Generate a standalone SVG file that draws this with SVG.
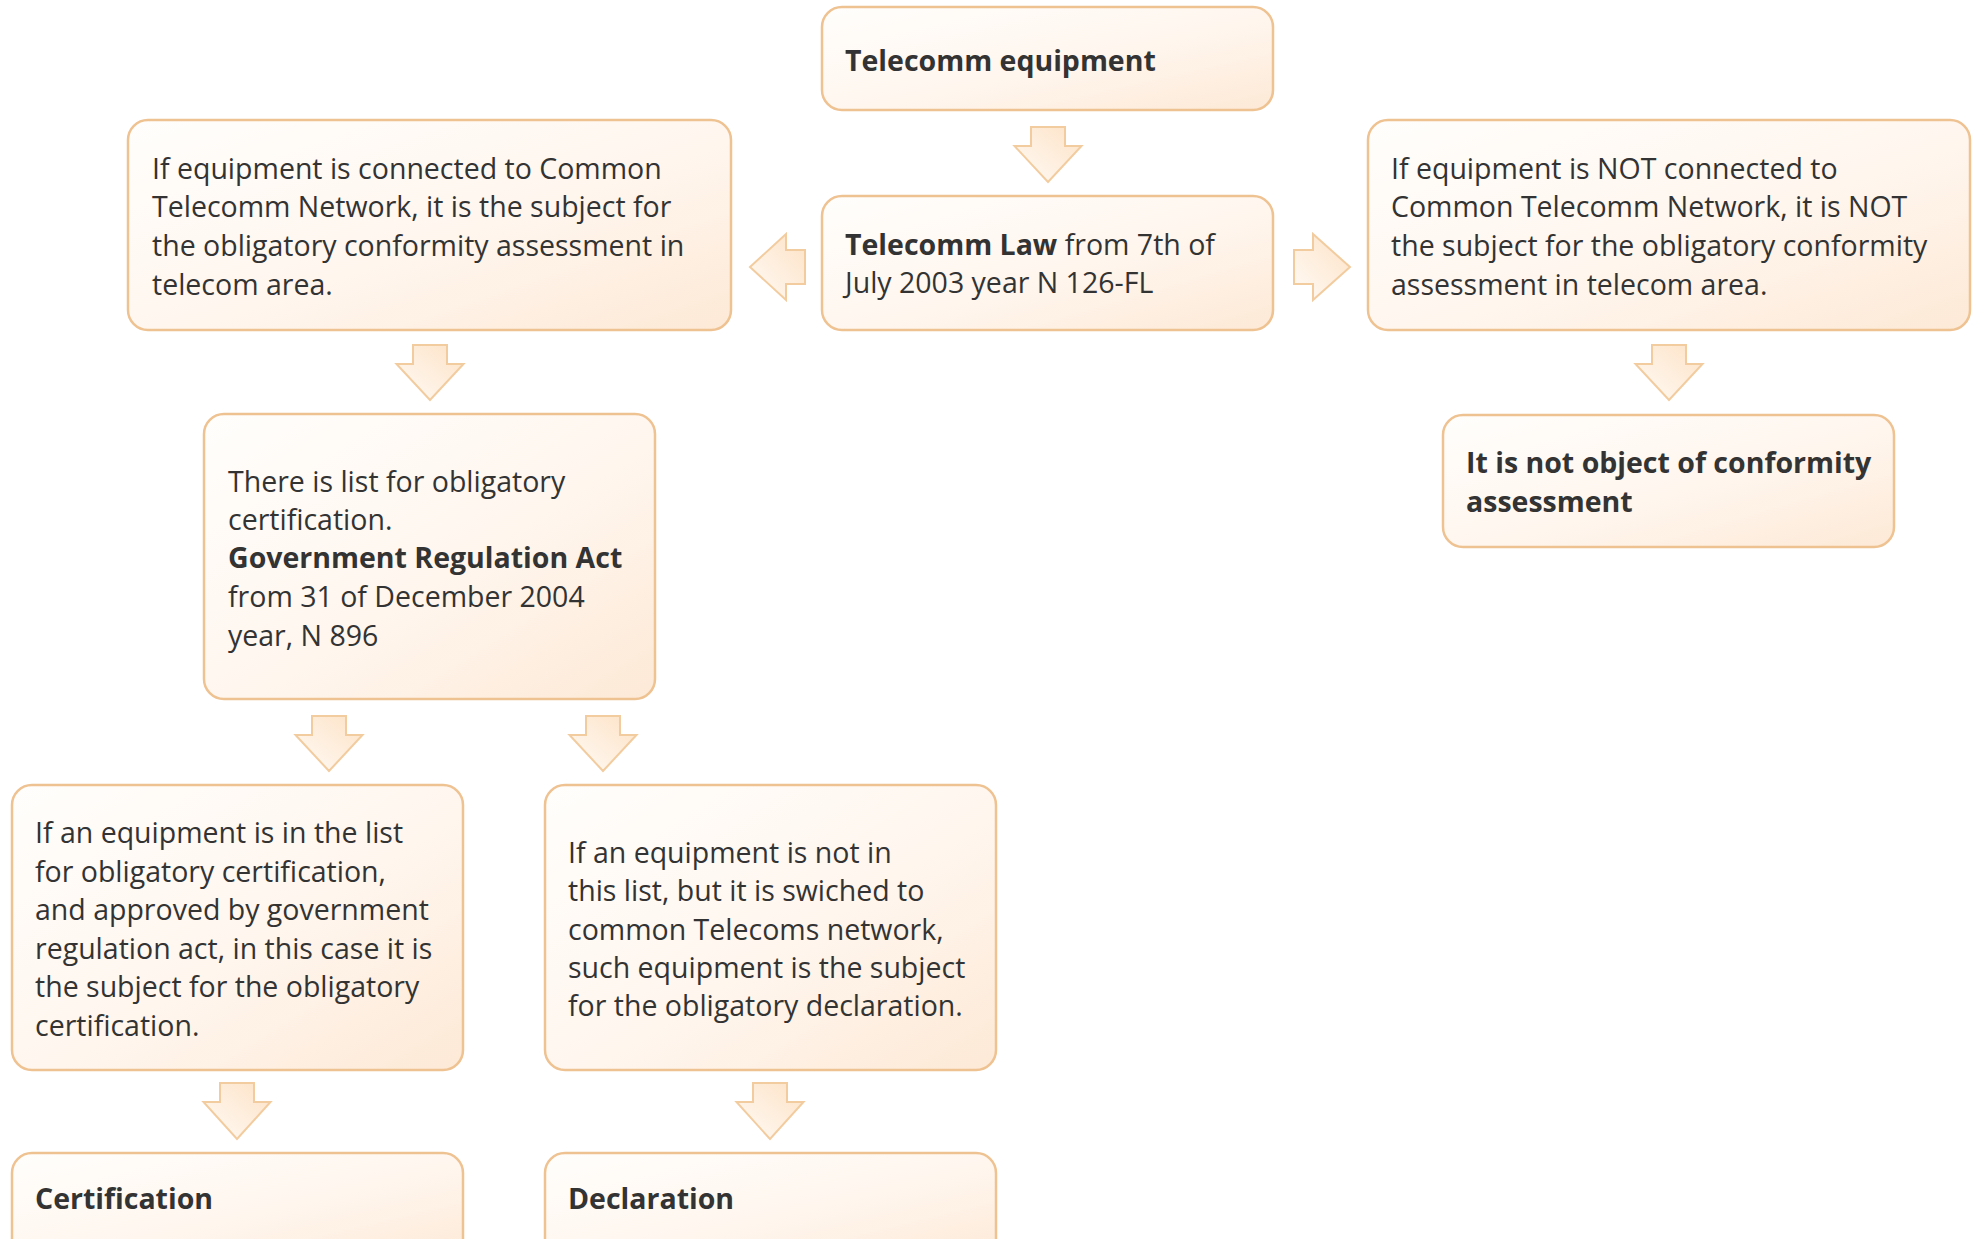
<svg xmlns="http://www.w3.org/2000/svg" width="1975" height="1239" viewBox="0 0 1975 1239">
<defs>
<linearGradient id="boxg" x1="0" y1="0" x2="1" y2="1">
<stop offset="0" stop-color="#fffefc"/>
<stop offset="0.55" stop-color="#fff6ee"/>
<stop offset="1" stop-color="#fde9d6"/>
</linearGradient>
<linearGradient id="arrg" x1="0" y1="1" x2="1" y2="0">
<stop offset="0" stop-color="#fffbf6"/>
<stop offset="1" stop-color="#fde2c6"/>
</linearGradient>
<style>
.box{fill:url(#boxg);stroke:#efc292;stroke-width:2.5}
.arr{fill:url(#arrg);stroke:#f2cc9f;stroke-width:2;stroke-linejoin:miter}
text{font-family:"Open Sans","Noto Sans","Liberation Sans",sans-serif;font-size:28.5px;fill:#333333}
.b{font-weight:700}
</style>
</defs>
<g id="connectors">
<path class="arr" d="M1031,127H1065V146H1081.5L1048,182L1014.5,146H1031Z"/>
<path class="arr" d="M805,250V284H786V300L750,267L786,234V250Z"/>
<path class="arr" d="M1294,250H1313V234L1350,267L1313,300V284H1294Z"/>
<path class="arr" d="M413,345H447V364H463.5L430,400L396.5,364H413Z"/>
<path class="arr" d="M1652,345H1686V364H1702.5L1669,400L1635.5,364H1652Z"/>
<path class="arr" d="M312,716H346V735H362.5L329,771L295.5,735H312Z"/>
<path class="arr" d="M586,716H620V735H636.5L603,771L569.5,735H586Z"/>
<path class="arr" d="M220,1083H254V1102H270.5L237,1139L203.5,1102H220Z"/>
<path class="arr" d="M753,1083H787V1102H803.5L770,1139L736.5,1102H753Z"/>
</g>
<g id="telecomm-equipment">
<rect class="box" x="822" y="7" width="451" height="103" rx="20"/>
<text class="b" x="845" y="71">Telecomm equipment</text>
</g>
<g id="telecomm-law">
<rect class="box" x="822" y="196" width="451" height="134" rx="20"/>
<text x="845" y="255"><tspan class="b">Telecomm Law</tspan> from 7th of</text>
<text x="845" y="293">July 2003 year N 126-FL</text>
</g>
<g id="connected">
<rect class="box" x="128" y="120" width="603" height="210" rx="20"/>
<text x="152" y="179">If equipment is connected to Common</text>
<text x="152" y="217">Telecomm Network, it is the subject for</text>
<text x="152" y="256">the obligatory conformity assessment in</text>
<text x="152" y="295">telecom area.</text>
</g>
<g id="not-connected">
<rect class="box" x="1368" y="120" width="602" height="210" rx="20"/>
<text x="1391" y="179">If equipment is NOT connected to</text>
<text x="1391" y="217">Common Telecomm Network, it is NOT</text>
<text x="1391" y="256">the subject for the obligatory conformity</text>
<text x="1391" y="295">assessment in telecom area.</text>
</g>
<g id="list">
<rect class="box" x="204" y="414" width="451" height="285" rx="20"/>
<text x="228" y="492">There is list for obligatory</text>
<text x="228" y="530">certification.</text>
<text class="b" x="228" y="568">Government Regulation Act</text>
<text x="228" y="607">from 31 of December 2004</text>
<text x="228" y="646">year, N 896</text>
</g>
<g id="not-object">
<rect class="box" x="1443" y="415" width="451" height="132" rx="20"/>
<text class="b" x="1466" y="473">It is not object of conformity</text>
<text class="b" x="1466" y="512">assessment</text>
</g>
<g id="in-list">
<rect class="box" x="12" y="785" width="451" height="285" rx="20"/>
<text x="35" y="843">If an equipment is in the list</text>
<text x="35" y="882">for obligatory certification,</text>
<text x="35" y="920">and approved by government</text>
<text x="35" y="959">regulation act, in this case it is</text>
<text x="35" y="997">the subject for the obligatory</text>
<text x="35" y="1036">certification.</text>
</g>
<g id="not-in-list">
<rect class="box" x="545" y="785" width="451" height="285" rx="20"/>
<text x="568" y="863">If an equipment is not in</text>
<text x="568" y="901">this list, but it is swiched to</text>
<text x="568" y="940">common Telecoms network,</text>
<text x="568" y="978">such equipment is the subject</text>
<text x="568" y="1016">for the obligatory declaration.</text>
</g>
<g id="certification">
<rect class="box" x="12" y="1153" width="451" height="110" rx="20"/>
<text class="b" x="35" y="1209">Certification</text>
</g>
<g id="declaration">
<rect class="box" x="545" y="1153" width="451" height="110" rx="20"/>
<text class="b" x="568" y="1209">Declaration</text>
</g>
</svg>
